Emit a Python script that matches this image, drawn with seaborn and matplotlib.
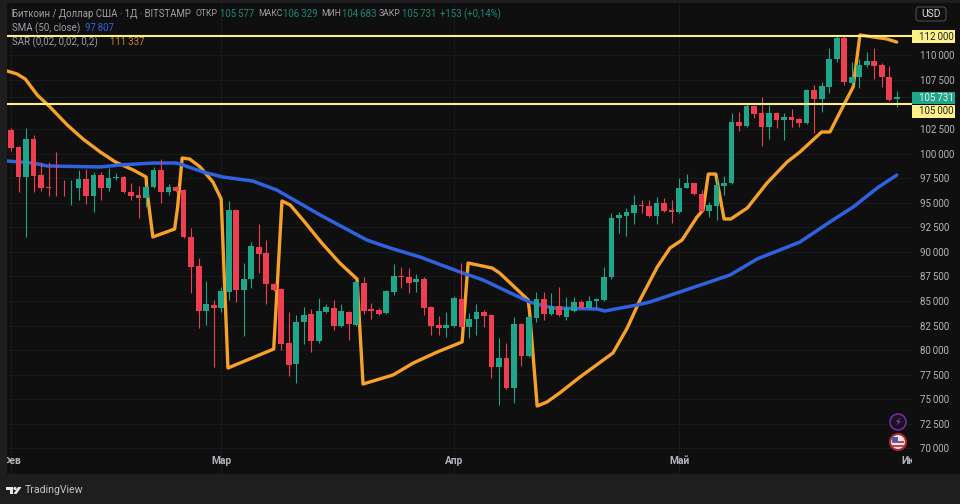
import numpy as np
import pandas as pd
import matplotlib
matplotlib.use("Agg")
import matplotlib.pyplot as plt
import seaborn as sns
from matplotlib.patches import Rectangle, Circle, FancyBboxPatch, Polygon
from matplotlib.transforms import Bbox
from matplotlib.ticker import FuncFormatter

ohlc = [
(102390,102640,100250,100560),(100660,100800,96080,97610),(97610,102600,91510,101480),(101480,101880,96080,97710),
(97810,99140,96190,96490),(96590,99140,95680,96490),(96540,100150,95680,96440),(96540,97300,95680,96440),
(96440,97300,94760,96540),(96490,98320,95270,97410),(97410,98420,94860,95680),(95680,98120,94050,97810),
(97810,98120,95270,96490),(96490,98530,96190,97510),(97510,98020,97300,97610),(97610,97710,95980,96080),
(96080,97000,95270,95680),(95780,96690,93440,95470),(95470,96800,94560,96590),(96590,98630,96490,98320),
(98320,99440,94960,96080),(96080,96900,95780,96590),(96590,96690,96080,96190),(96290,96390,91410,91510),
(91510,92420,85810,88450),(88560,89370,82250,83980),(83980,87030,82550,84690),(84590,85100,78280,84280),
(84280,86420,83880,86010),(85910,95170,85100,94250),(94250,94360,84890,86110),(86110,88860,81430,87230),
(87230,91000,86320,90590),(90490,92830,87840,89780),(89880,91200,84690,86720),(86720,86830,86010,86110),
(86220,86320,80010,80620),(80720,83880,77370,78480),(78590,83570,76650,82860),(82860,84390,80620,83570),
(83670,84180,79810,80930),(80930,85300,80720,83980),(83880,84690,83770,84390),(84280,85100,82050,82450),
(82450,84690,82350,83980),(83880,83980,81030,82660),(82550,87030,82450,86930),(86830,87440,83670,83980),
(84180,84790,83160,83980),(84080,84280,83620,83670),(83770,86110,83670,86010),(85910,88760,85610,87540),
(87540,88450,86320,87440),(87440,88350,85810,86830),(86930,87740,85910,87230),(87230,87440,83570,84280),
(84390,84490,81540,82450),(82550,83470,81540,82250),(82250,83880,81330,82550),(82450,85510,82350,85300),
(85200,88860,82250,82350),(82350,83770,81230,83160),(83160,84690,81540,83880),(83880,84080,82350,83470),
(83570,83670,77160,78280),(78280,81230,74420,79200),(79200,80720,76040,76150),(76150,83370,74620,82660),
(82660,82760,78380,79400),(79400,83470,79300,83370),(83270,85910,82860,85200),(85200,85910,83060,83670),
(83670,85810,83570,84490),(84490,86420,83470,83570),(83370,85400,83060,84280),(83980,85400,83880,84890),
(84890,85100,84180,84280),(84280,85510,84180,84990),(84990,85300,84280,85200),(85100,88450,84990,87440),
(87440,93950,87230,93440),(93440,94050,91910,93740),(93640,94460,91610,94050),(93950,95780,92830,94760),
(94760,95270,93950,94710),(94660,95270,93540,93640),(93640,95570,92830,94960),(94960,95470,94050,94150),
(94250,95270,92930,94050),(94050,97510,93950,96490),(96490,97910,96490,96990),(96990,97000,95780,95880),
(95880,96290,94050,94150),(94150,95070,93540,94760),(94660,97610,93240,96800),(96690,97710,95780,96990),
(96990,104120,96900,103200),(103200,104220,102290,102800),(102800,105140,102700,104830),(104830,104940,103610,104020),
(104120,105750,100760,102700),(102700,104940,101480,104120),(104120,104220,102590,103410),(103410,104120,101370,103710),
(103710,104530,102700,103410),(103510,103610,102700,103100),(103100,106560,103000,106460),(106460,106970,102090,105540),
(105540,107270,104220,106870),(106770,110730,106150,109610),(109610,111950,109310,111750),(111750,111950,106970,107270),
(107170,109310,106970,107780),(107780,109610,106660,109000),(109000,110330,108800,109410),(109410,110730,107580,108900),
(109000,109210,106770,107780),(107780,108900,105340,105440),(105577,106329,104683,105731),
]
sar_day = [-0.5,0.8,1.9,3.5,5.2,7.5,9.6,11.9,13.9,16.3,18,18.1,18.9,21.8,22.2,22.8,23.8,25.2,26.9,28,28.9,35,36.1,37.2,38.9,41.4,43.8,46.1,46.9,50.9,53.6,56.8,60.1,60.9,64.1,65.1,68.9,69.1,70.1,71.4,73.1,75.8,78.9,80.2,82.1,83.8,86.1,87.8,89.4,91.4,92.2,92.9,93.9,95,95.9,98.1,100.7,103.4,105.1,108,109.1,110.8,112.2,113.1,114,116.7,118]
sar_val = [108390,108090,107580,105950,104730,102900,101470,100150,99140,98320,97610,96290,91510,92320,94560,99540,99440,98630,97100,95370,78180,80110,95170,94760,93240,90900,88860,87230,76550,77470,78690,79810,80830,88860,88350,87840,85100,83770,74310,74720,75640,77260,78990,79710,82250,85100,88450,90390,91200,93540,94250,97910,97910,93340,93340,94460,96980,99140,100150,102190,102190,104730,106770,112060,111950,111650,111337]
sma_day = [-0.5,2.9,4.8,11.9,14.5,18.9,22.1,25.6,28.2,32.2,35.4,41.2,47.4,50.5,54.5,59.8,62.9,69.1,72.2,78.1,79.1,83.4,85.1,89.1,95.8,99.4,105.1,109.5,112.2,115.4,118]
sma_val = [99240,99030,98730,98630,98830,99030,99030,98120,97610,97200,96290,93740,91200,90390,89470,87950,87130,84890,84280,84180,83980,84590,84890,85910,87640,89270,90990,93240,94560,96490,97807]
levels = [112000, 105000]
month_days = [0, 28, 59, 89, 120]
month_labels = ["Фев", "Мар", "Апр", "Май", "Июн"]
price_ticks = [t for t in range(70000, 112500, 2500) if t != 105000]

BG, PANEL, GREY = "#1e1e1e", "#0f0f0f", "#b2b5be"
UP, DOWN, ORANGE, BLUE, YELLOW = "#1ea58a", "#ef3e50", "#f7a129", "#2f62e0", "#fdf08a"

sns.set_theme(style="dark")
plt.rcParams["font.family"] = ["Roboto", "DejaVu Sans"]
fig = plt.figure(figsize=(9.6, 5.04), dpi=100, facecolor=BG)
L, R, T, B = 7, 912, 3, 474
ax = fig.add_axes([L/960, 1-B/504, (R-L)/960, (B-T)/504], facecolor=PANEL)
S = 7.506
ax.set_xlim((L-11)/S, (R-11)/S)
ax.set_ylim(115616-101.73*B, 115616-101.73*T)
for s in ax.spines.values():
    s.set_visible(False)
# dark price-scale pane behind the tick labels
fig.add_artist(Rectangle((R/960, 1-B/504), (960-R)/960, (B-T)/504, transform=fig.transFigure,
                         fc=PANEL, lw=0, zorder=-1))

df = pd.DataFrame(ohlc, columns=["o", "h", "l", "c"])
df["day"] = np.arange(len(df))
df["col"] = np.where(df.c >= df.o, UP, DOWN)

ax.grid(True, color="#1a1b1d", lw=0.7)
ax.set_axisbelow(True)
sns.lineplot(x=sar_day, y=sar_val, sort=False, estimator=None, color=ORANGE, lw=2.4, ax=ax, zorder=2)
sns.lineplot(x=sma_day, y=sma_val, sort=False, estimator=None, color=BLUE, lw=2.5, ax=ax, zorder=2)
ax.vlines(df.day, df.l, df.h, colors=df.col, lw=0.8, zorder=3)
ax.bar(df.day, (df.c-df.o).abs().clip(lower=90), bottom=df[["o", "c"]].min(axis=1),
       width=0.76, color=df.col, lw=0, zorder=4)
ax.axhline(df.c.iloc[-1], color=UP, lw=0.5, ls=(0, (1, 2)), alpha=0.45, zorder=4)
for lv in levels:
    ax.axhline(lv, color=YELLOW, lw=1.5, zorder=5)

ax.set_xticks(month_days, month_labels)
ax.yaxis.tick_right()
ax.set_yticks(price_ticks)
ax.yaxis.set_major_formatter(FuncFormatter(lambda v, _: f"{int(v):,}".replace(",", "\u2009")))
ax.tick_params(axis="y", length=0, pad=5.5, labelsize=7.0, labelcolor=GREY)
ax.tick_params(axis="x", length=0, pad=-13, labelsize=7.4, labelcolor=GREY)
clip = Bbox([[L, 0], [R, 504]])
for lab in ax.get_xticklabels():
    lab.set_fontweight("bold")
    lab.set_clip_on(True)
    lab.set_clip_box(clip)
for lab in ax.get_yticklabels():
    if lab.get_text().startswith("112"):
        lab.set_visible(False)

ov = fig.add_axes([0, 0, 1, 1], facecolor="none")
ov.set_xlim(0, 960); ov.set_ylim(504, 0); ov.axis("off")
def txt(x, y, s, c=GREY, size=7.0, **k):
    k.setdefault("ha", "left")
    ov.text(x, y, s, color=c, fontsize=size, va="center", **k)
hdr = "#9ea1aa"
G2 = "#1b8a75"
txt(12, 14, "Биткоин / Доллар США · 1Д · BITSTAMP", hdr, 6.9)
for x, s, c, z in [(196,"ОТКР",hdr,6.2),(220,"105\u2009577",G2,6.9),(258,"МАКС",hdr,6.2),(283,"106\u2009329",G2,6.9),
                (321,"МИН",hdr,6.2),(342,"104\u2009683",G2,6.9),(379,"ЗАКР",hdr,6.2),(402,"105\u2009731",G2,6.9),(440,"+153 (+0,14%)",G2,6.9)]:
    txt(x, 14, s, c, z)
txt(12, 28, "SMA (50, close)", hdr, 7.0); txt(85, 28, "97\u2009807", BLUE, 6.9)
txt(12, 42, "SAR (0,02, 0,02, 0,2)", hdr, 7.0); txt(110, 42, "111\u2009337", "#c9862a", 6.9)

for y0, y1, ym, s, fc, tc in [(30,43,36.5,"112\u2009000",YELLOW,"#222222"),(105,118,111.5,"105\u2009000",YELLOW,"#222222"),
                              (92,104,98,"105\u2009731",UP,"#f0f0f0")]:
    ov.add_patch(Rectangle((912, y0), 43, y1-y0, fc=fc, lw=0, zorder=5))
    txt(936, ym, s, tc, 7.0, ha="center", zorder=6)

ov.add_patch(FancyBboxPatch((916, 7), 30, 14, boxstyle="round,pad=0,rounding_size=3", fc=PANEL, ec="#4a4b50", lw=0.8))
txt(931, 14, "USD", "#e0e0e0", 7.4, ha="center")

ov.add_patch(Circle((898, 422), 8, fc="#1c1027", ec="#7b2fa5", lw=1.1))
ov.text(898, 422, "\u26a1", color="#a55cc9", fontsize=7, ha="center", va="center", family="DejaVu Sans")
ov.add_patch(Circle((898, 442), 8, fc="#e8e8ee", ec="#b0262f", lw=1.5))
ov.add_patch(Rectangle((892, 441), 12, 2, fc="#c9444c", lw=0))
ov.add_patch(Rectangle((892, 445), 12, 2, fc="#c9444c", lw=0))
ov.add_patch(Rectangle((892, 437), 6, 5, fc="#3a5fb5", lw=0))

ov.add_patch(Polygon([(6,487),(13,487),(13,494),(10,494),(10,490),(6,490)], fc="#e6e6e6", lw=0))
ov.add_patch(Circle((15, 488.5), 1.6, fc="#e6e6e6", lw=0))
ov.add_patch(Polygon([(18,487),(21.5,487),(16.5,494),(13.5,494)], fc="#e6e6e6", lw=0))
txt(25, 490, "TradingView", "#c4c5c9", 7.6)

fig.savefig("out.png", dpi=100, facecolor=BG)
